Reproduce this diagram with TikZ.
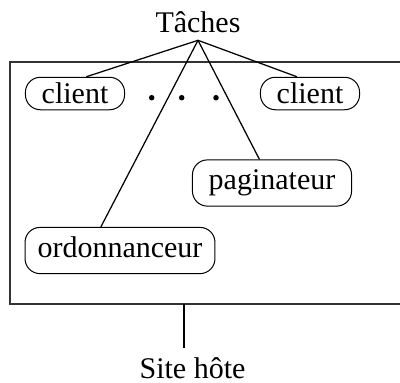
\documentclass[tikz,border=0pt]{standalone}
\usepackage{fontspec}
\setmainfont{Liberation Serif}
\usetikzlibrary{calc}

\begin{document}
\begin{tikzpicture}[x=0.4pt, y=-0.4pt,
    every node/.style={font=\fontsize{12pt}{14pt}\selectfont},
    tache/.style={draw, rounded corners=6pt, inner xsep=6.5pt, inner ysep=4pt,
                  text height=8pt, text depth=2.5pt},
    link/.style={line width=0.5pt}]

\useasboundingbox (0,0) rectangle (400,382);

% --- HOST BOX (right side runs off the page) ---
\coordinate (boxTL) at (10,62);
\coordinate (boxBL) at (10,304);
\draw[line width=0.6pt, black!80] (400,62) -- (boxTL) -- (boxBL) -- (400,304);

% --- LABELS ---
\node[anchor=base, inner sep=3pt] (taches) at (198,32) {Tâches};
\node[anchor=base, inner sep=3.5pt] (site) at (192.5,378.5) {Site hôte};

% --- TASKS ---
\node[tache, text depth=0pt, inner ysep=2.5pt] (cl1) at (75,93.5) {client};
\node[tache, text depth=0pt, inner ysep=2.5pt] (cl2) at (310,93.5) {client};
\node[tache] (pag) at (272,183) {paginateur};
\node[tache, inner xsep=5pt] (ord) at (120,250.5) {ordonnanceur};

% --- DOTS ---
\foreach \dx in {151.7, 181.7, 216} {
    \fill (\dx,97.7) circle (1.1pt);
}

% --- CONNECTORS ---
\draw[link] (taches.south) -- (cl1.56);
\draw[link] (taches.south) -- (ord.129);
\draw[link] (taches.south) -- (pag.118);
\draw[link] (taches.south) -- (cl2.128);

\coordinate (hostpt) at (184,304);
\draw[link] (hostpt) -- (hostpt |- site.north);

\end{tikzpicture}
\end{document}
